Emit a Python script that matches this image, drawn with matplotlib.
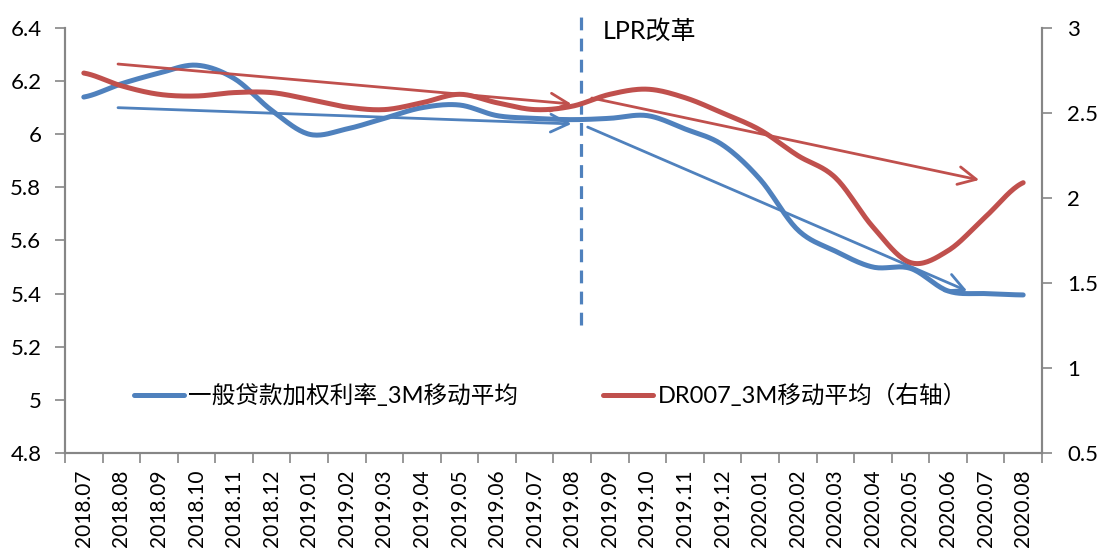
import matplotlib
matplotlib.use('Agg')
import matplotlib.pyplot as plt
import numpy as np

plt.rcParams['font.family'] = ['Lato', 'Noto Sans CJK SC', 'DejaVu Sans']

# --- Data ---
months = ['2018.07', '2018.08', '2018.09', '2018.10', '2018.11', '2018.12',
          '2019.01', '2019.02', '2019.03', '2019.04', '2019.05', '2019.06',
          '2019.07', '2019.08', '2019.09', '2019.10', '2019.11', '2019.12',
          '2020.01', '2020.02', '2020.03', '2020.04', '2020.05', '2020.06',
          '2020.07', '2020.08']
loan_rate = [6.14, 6.19, 6.23, 6.26, 6.21, 6.09, 6.00, 6.02, 6.06, 6.10,
             6.11, 6.07, 6.06, 6.055, 6.06, 6.07, 6.02, 5.96, 5.83, 5.64,
             5.56, 5.50, 5.495, 5.41, 5.40, 5.395]
dr007 = [2.735, 2.66, 2.61, 2.60, 2.62, 2.62, 2.58, 2.535, 2.52, 2.56,
         2.61, 2.56, 2.52, 2.54, 2.61, 2.64, 2.59, 2.50, 2.40, 2.25,
         2.12, 1.83, 1.62, 1.69, 1.89, 2.09]
loan_label = '一般贷款加权利率_3M移动平均'
dr_label = 'DR007_3M移动平均（右轴）'
left_ticks = [4.8, 5.0, 5.2, 5.4, 5.6, 5.8, 6.0, 6.2, 6.4]
right_ticks = [0.5, 1.0, 1.5, 2.0, 2.5, 3.0]

# trend arrows: (x index start, y start, x index end, y end)
blue_trends = [(0.91, 6.10, 12.98, 6.039), (13.41, 6.027, 23.51, 5.41)]
red_trends = [(0.91, 2.788, 12.98, 2.553), (13.52, 2.588, 23.83, 2.106)]
lpr_index = 13.22

BLUE = '#4F81BD'
RED = '#C0504D'
GREY = '#868686'


def smooth(y, n=20):
    # Catmull-Rom style smoothing like Excel's "smoothed line"
    y = np.asarray(y, dtype=float)
    p = np.concatenate([[y[0]], y, [y[-1]]])
    xs, ys = [], []
    t = np.linspace(0, 1, n, endpoint=False)
    for i in range(len(y) - 1):
        p0, p1, p2, p3 = p[i], p[i + 1], p[i + 2], p[i + 3]
        seg = 0.5 * ((2 * p1) + (-p0 + p2) * t + (2 * p0 - 5 * p1 + 4 * p2 - p3) * t ** 2
                     + (-p0 + 3 * p1 - 3 * p2 + p3) * t ** 3)
        xs.extend(i + t)
        ys.extend(seg)
    xs.append(len(y) - 1)
    ys.append(y[-1])
    return np.array(xs), np.array(ys)


fig = plt.figure(figsize=(11.04, 5.49), dpi=100)
ax = fig.add_axes([0.0589, 0.1749, 0.8849, 0.7741])
ax2 = ax.twinx()

x = np.arange(len(months))
bx, by = smooth(loan_rate)
ax.plot(bx, by, color=BLUE, lw=3.6, solid_capstyle='round', label=loan_label)
rx, ry = smooth(dr007)
ax2.plot(rx, ry, color=RED, lw=3.6, solid_capstyle='round', label=dr_label)

for x0, y0, x1, y1 in blue_trends:
    ax.annotate('', xy=(x1, y1), xytext=(x0, y0),
                arrowprops=dict(arrowstyle='->', color=BLUE, lw=2.0,
                                mutation_scale=32, shrinkA=0, shrinkB=0))
for x0, y0, x1, y1 in red_trends:
    ax2.annotate('', xy=(x1, y1), xytext=(x0, y0),
                 arrowprops=dict(arrowstyle='->', color=RED, lw=2.0,
                                 mutation_scale=32, shrinkA=0, shrinkB=0))

ax.plot([lpr_index, lpr_index], [5.28, 6.46], color=BLUE, lw=2.3,
        dashes=(4, 2.6), clip_on=False)
ax.text(lpr_index + 0.6, 6.39, 'LPR改革', fontsize=18, va='center', ha='left',
        color='black')

ax.set_xlim(-0.5, len(months) - 0.5)
ax.set_ylim(4.8, 6.4)
ax2.set_ylim(0.5, 3.0)

ax.set_yticks(left_ticks)
ax.set_yticklabels(['4.8', '5', '5.2', '5.4', '5.6', '5.8', '6', '6.2', '6.4'])
ax2.set_yticks(right_ticks)
ax2.set_yticklabels(['0.5', '1', '1.5', '2', '2.5', '3'])

ax.set_xticks(x)
ax.set_xticklabels(months, rotation=90, fontsize=15)
ax.set_xticks(np.arange(len(months) + 1) - 0.5, minor=True)
ax.tick_params(axis='x', which='major', length=0, pad=12)
ax.tick_params(axis='x', which='minor', length=7, color=GREY, width=1.2)
ax.tick_params(axis='y', length=7, color=GREY, width=1.2, labelsize=16, pad=10)
ax2.tick_params(axis='y', length=7, color=GREY, width=1.2, labelsize=16, pad=11)

for a in (ax, ax2):
    a.spines['top'].set_visible(False)
    for s in ('left', 'right', 'bottom'):
        a.spines[s].set_color(GREY)
        a.spines[s].set_linewidth(1.5)

h1, l1 = ax.get_legend_handles_labels()
h2, l2 = ax2.get_legend_handles_labels()
ax2.legend(h1 + h2, l1 + l2, ncol=2, loc='center', bbox_to_anchor=(0.497, 0.136),
           frameon=False, fontsize=17, handlelength=2.1, handletextpad=0.2,
           columnspacing=3.6)

plt.savefig('out.png', dpi=100)
